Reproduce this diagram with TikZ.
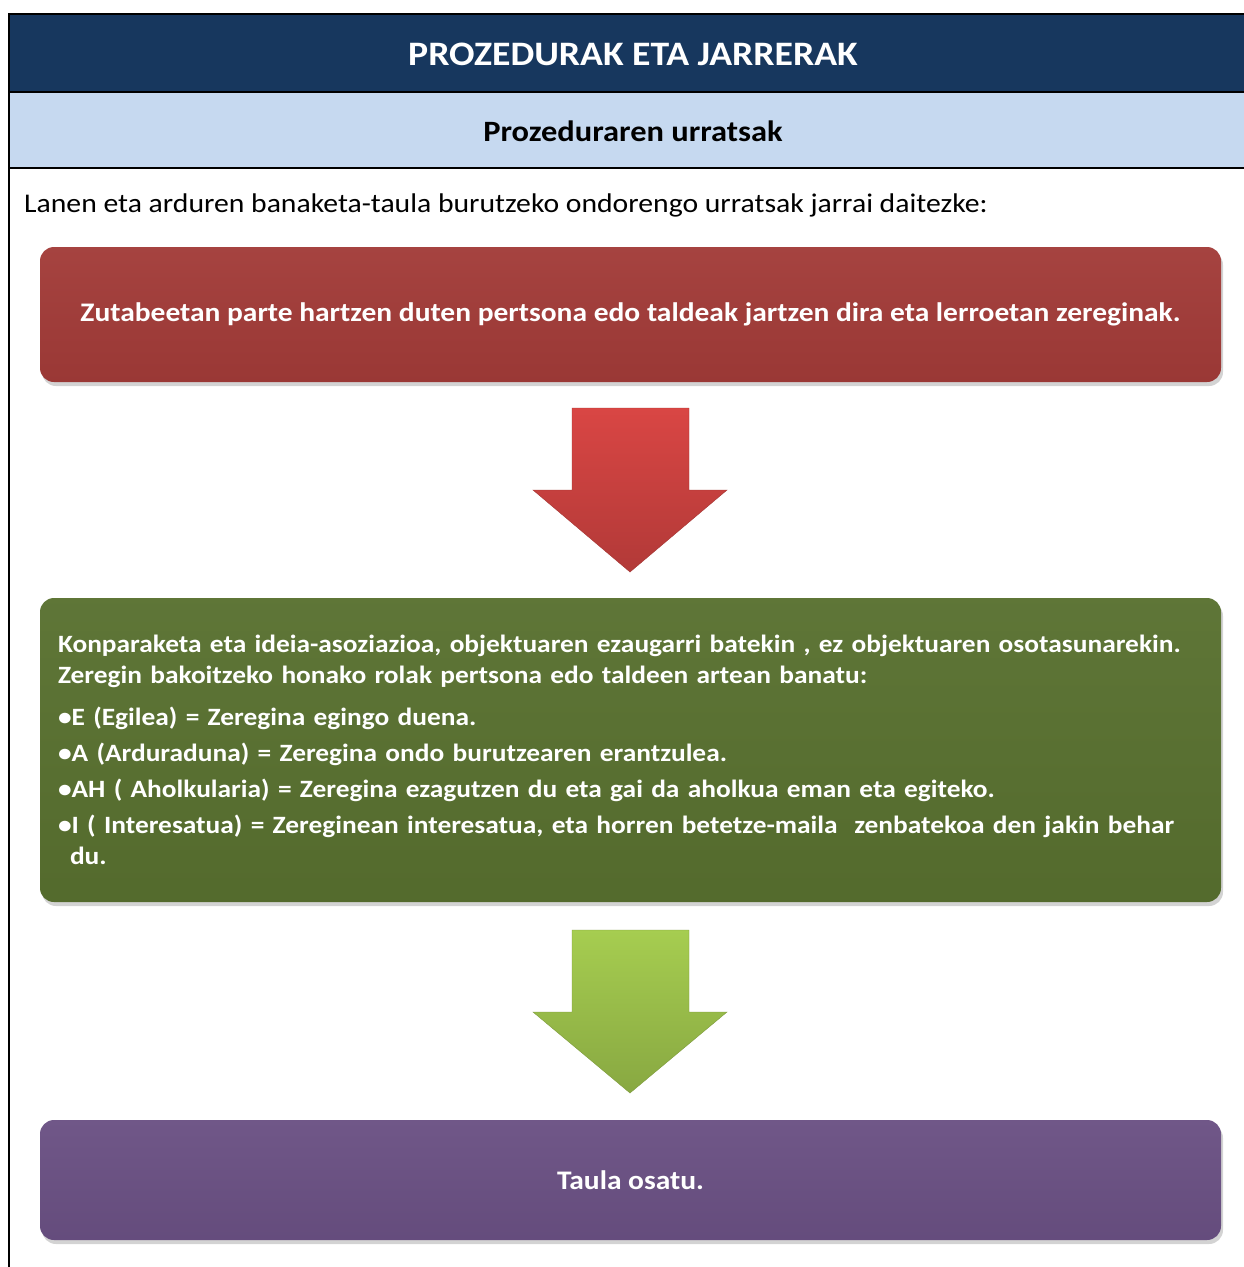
\documentclass[tikz,border=0pt]{standalone}
\usepackage{fontspec}
\setmainfont{Carlito}[FakeStretch=1.1]
\usepackage{xcolor}
\usetikzlibrary{positioning, shadows}
\definecolor{itsaso}{HTML}{17375E}
\definecolor{zerua}{HTML}{C6D9F0}
\definecolor{gorria}{HTML}{A23B38}
\definecolor{berdea}{HTML}{58702F}
\definecolor{morea}{HTML}{6A5083}
\definecolor{gezigorri}{HTML}{D94644}
\definecolor{geziberde}{HTML}{A6CD50}

\tikzset{
  urrats/.style={rounded corners=14pt, minimum width=1181pt, inner sep=18pt,
    text=white, font=\bfseries\fontsize{26.8}{31}\selectfont,
    top color=#1!96!white, middle color=#1, bottom color=#1!95!black,
    drop shadow={opacity=0.35, shadow xshift=2pt, shadow yshift=-4pt}},
  gezi/.style={draw=#1!75!black, line width=0.4pt, line join=miter,
    top color=#1, bottom color=#1!82!black}
}

\begin{document}
\begin{tikzpicture}[x=1pt, y=-1pt]
    \useasboundingbox (0,0) rectangle (1244,1267);
    % goiburua
    \fill[itsaso] (9,14) rectangle (1244,92);
    \fill[zerua] (9,92) rectangle (1244,168);
    \draw[line width=2pt] (1244,14) -- (9,14) -- (9,1267);
    \foreach \y in {92,168} {\draw[line width=2pt] (9,\y) -- (1244,\y);}
    \node[text=white, font=\bfseries\fontsize{34.3}{40}\selectfont] (izenburua) at (633,54) {PROZEDURAK ETA JARRERAK};
    \node[font=\bfseries\fontsize{29.5}{34}\selectfont] (azpiburua) at (633,131) {Prozeduraren urratsak};
    \node[anchor=west, inner sep=0pt, font=\fontsize{27}{32}\selectfont] (sarrera) at (24,205)
      {Lanen eta arduren banaketa-taula burutzeko ondorengo urratsak jarrai daitezke:};

    % urratsak
    \node[urrats=gorria, minimum height=135pt] (lehena) at (630.5,314.5)
      {Zutabeetan parte hartzen duten pertsona edo taldeak jartzen dira eta lerroetan zereginak.};
    \node[urrats=berdea, minimum height=304pt, text width=1145pt, align=left,
      font=\bfseries\fontsize{24.9}{31}\selectfont] (bigarrena) at (630.5,750)
      {\mbox{Konparaketa eta ideia-asoziazioa, objektuaren ezaugarri batekin , ez objektuaren osotasunarekin.}\\
       \mbox{Zeregin bakoitzeko honako rolak pertsona edo taldeen artean banatu:}\\[11pt]
       •E (Egilea) = Zeregina egingo duena.\\[5pt]
       •A (Arduraduna) = Zeregina ondo burutzearen erantzulea.\\[5pt]
       \mbox{•AH ( Aholkularia) = Zeregina ezagutzen du eta gai da aholkua eman eta egiteko.}\\[5pt]
       \mbox{•I ( Interesatua) = Zereginean interesatua, eta horren betetze-maila\ \ zenbatekoa den jakin behar}\\
       \hspace*{12pt}du.};
    \node[urrats=morea, minimum height=120pt] (hirugarrena) at (630.5,1180) {Taula osatu.};

    % geziak
    \shade[gezi=gezigorri]
      (572,408) -- (689,408) -- (689,490) -- (727,490) -- (630,572) -- (533,490) -- (572,490) -- cycle;
    \shade[gezi=geziberde]
      (572,930) -- (689,930) -- (689,1012) -- (727,1012) -- (630,1093) -- (533,1012) -- (572,1012) -- cycle;
  \end{tikzpicture}
\end{document}
